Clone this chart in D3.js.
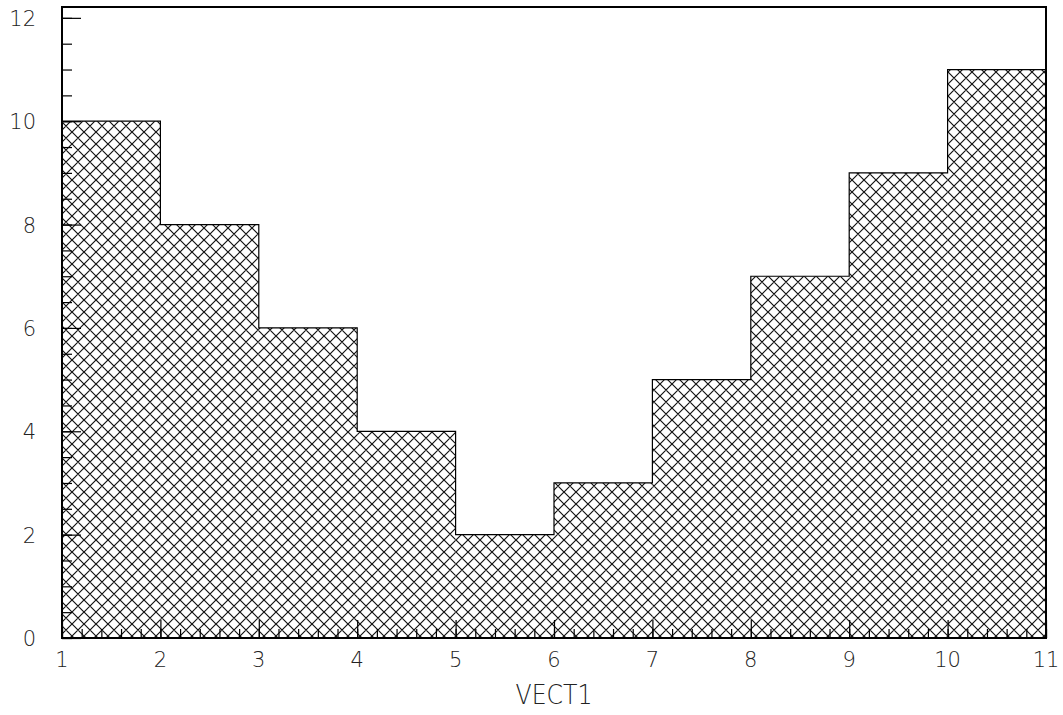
<!DOCTYPE html>
<html>
<meta charset="utf-8">
<style>
body { margin: 0; background: #fff; }
.lbl { font-family: "DejaVu Sans", "Liberation Sans", sans-serif; font-weight: 200; font-size: 21px; fill: #222; }
</style>
<body>
<svg width="1063" height="715"></svg>
<script src="https://d3js.org/d3.v7.min.js"></script>
<script>
// bin edges and contents
var binLow  = [1, 2, 3, 4, 5, 6, 7, 8, 9, 10];
var counts  = [10, 8, 6, 4, 2, 3, 5, 7, 9, 11];
var xTicks  = [1, 2, 3, 4, 5, 6, 7, 8, 9, 10, 11];
var yTicks  = [0, 2, 4, 6, 8, 10, 12];
var xTitle  = "VECT1";

var svg = d3.select("svg"),
    frameL = 62, frameR = 1046, frameT = 7, frameB = 638;

var x = d3.scaleLinear().domain([1, 11]).range([frameL, frameR]),
    y = d3.scaleLinear().domain([0, 12.21]).range([frameB, frameT]);

// cross hatch pattern
var hs = 12;
var pat = svg.append("defs").append("pattern")
    .attr("id", "hatch")
    .attr("patternUnits", "userSpaceOnUse")
    .attr("width", hs).attr("height", hs);
pat.append("path")
    .attr("d", "M0,0L" + hs + "," + hs + "M" + (-hs/2) + "," + (hs/2) + "L" + (hs/2) + "," + (hs*1.5) +
               "M" + (hs/2) + "," + (-hs/2) + "L" + (hs*1.5) + "," + (hs/2) +
               "M" + hs + ",0L0," + hs + "M" + (hs/2) + "," + (-hs/2) + "L" + (-hs/2) + "," + (hs/2) +
               "M" + (hs*1.5) + "," + (hs/2) + "L" + (hs/2) + "," + (hs*1.5))
    .attr("stroke", "#111").attr("stroke-width", 1.2);

var bins = binLow.map(function(b, i) { return {x0: b, x1: b + 1, v: counts[i]}; });

svg.selectAll(".bin")
  .data(bins)
  .enter().append("rect")
    .attr("class", "bin")
    .attr("x", function(d) { return x(d.x0); })
    .attr("y", function(d) { return y(d.v); })
    .attr("width", function(d) { return x(d.x1) - x(d.x0); })
    .attr("height", function(d) { return y(0) - y(d.v); })
    .attr("fill", "url(#hatch)");

// histogram outline
var pts = [[1, 0]];
bins.forEach(function(d) { pts.push([d.x0, d.v]); pts.push([d.x1, d.v]); });
pts.push([11, 0]);
svg.append("path")
    .attr("d", d3.line().x(function(p) { return x(p[0]); }).y(function(p) { return y(p[1]); })(pts))
    .attr("fill", "none").attr("stroke", "#000").attr("stroke-width", 1.2);

// frame
svg.append("rect")
    .attr("x", frameL).attr("y", frameT)
    .attr("width", frameR - frameL).attr("height", frameB - frameT)
    .attr("fill", "none").attr("stroke", "#000").attr("stroke-width", 2);

function styleTicks(g) {
  g.select(".domain").remove();
  g.selectAll("line").attr("stroke", "#000").attr("stroke-width", 1.2);
}

// x axis ticks (drawn inward)
var xMinor = d3.range(1, 11.001, 0.2).map(function(v) { return Math.round(v * 10) / 10; });
svg.append("g").attr("transform", "translate(0," + frameB + ")")
    .call(d3.axisBottom(x).tickValues(xMinor).tickSize(-9).tickFormat(""))
    .call(styleTicks);
svg.append("g").attr("transform", "translate(0," + frameB + ")")
    .call(d3.axisBottom(x).tickValues(xTicks).tickSize(-18).tickFormat(""))
    .call(styleTicks);

// y axis ticks
var yMinor = d3.range(0, 12.001, 0.5);
svg.append("g").attr("transform", "translate(" + frameL + ",0)")
    .call(d3.axisLeft(y).tickValues(yMinor).tickSize(-10).tickFormat(""))
    .call(styleTicks);
svg.append("g").attr("transform", "translate(" + frameL + ",0)")
    .call(d3.axisLeft(y).tickValues(yTicks).tickSize(-19).tickFormat(""))
    .call(styleTicks);

// labels
svg.selectAll(".xl")
  .data(xTicks)
  .enter().append("text")
    .attr("class", "lbl")
    .attr("x", function(d) { return x(d); })
    .attr("y", 667)
    .attr("text-anchor", "middle")
    .text(function(d) { return d; });

svg.selectAll(".yl")
  .data(yTicks)
  .enter().append("text")
    .attr("class", "lbl")
    .attr("x", 36)
    .attr("y", function(d) { return y(d) + 8; })
    .attr("text-anchor", "end")
    .text(function(d) { return d; });

svg.append("text")
    .attr("class", "lbl")
    .attr("x", (frameL + frameR) / 2)
    .attr("y", 704)
    .attr("text-anchor", "middle")
    .attr("textLength", 77)
    .attr("lengthAdjust", "spacingAndGlyphs")
    .style("font-size", "27px")
    .text(xTitle);
</script>
</body>
</html>
